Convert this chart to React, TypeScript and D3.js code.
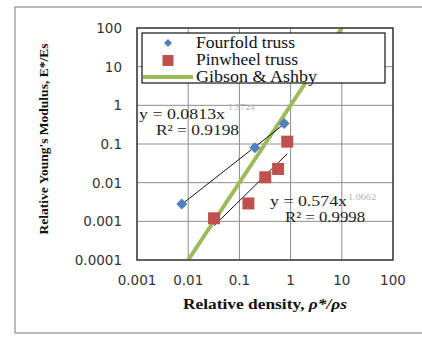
import React from "react";
import * as d3 from "d3";

// data
const fourfoldX = [0.0075, 0.2, 0.75];
const fourfoldY = [0.0028, 0.08, 0.34];
const pinwheelX = [0.032, 0.15, 0.32, 0.57, 0.86];
const pinwheelY = [0.0012, 0.0029, 0.0138, 0.0226, 0.115];
const gibsonX = [0.01, 10];

const xTicks = [0.001, 0.01, 0.1, 1, 10, 100];
const xTickLabels = ["0.001", "0.01", "0.1", "1", "10", "100"];
const yTicks = [0.0001, 0.001, 0.01, 0.1, 1, 10, 100];
const yTickLabels = ["0.0001", "0.001", "0.01", "0.1", "1", "10", "100"];

const legendLabels = ["Fourfold truss", "Pinwheel truss", "Gibson & Ashby"];
const legendWidths = [99, 102, 121];

const width = 422;
const height = 337;
const margin = { top: 28, right: 29, bottom: 77, left: 137 };

const blue = "#4f81bd";
const red = "#c0504d";
const green = "#9bbb59";
const serif = "'Liberation Serif', 'Times New Roman', serif";
const sans = "'DejaVu Sans', Verdana, sans-serif";

// least squares fit in log-log space (power trendline)
const powerFit = (xs: number[], ys: number[]) => {
  const lx = xs.map(Math.log10);
  const ly = ys.map(Math.log10);
  const mx = d3.mean(lx) as number;
  const my = d3.mean(ly) as number;
  const b =
    d3.sum(lx, (v, i) => (v - mx) * (ly[i] - my)) /
    d3.sum(lx, (v) => (v - mx) * (v - mx));
  const a = my - b * mx;
  return (x: number) => Math.pow(10, a + b * Math.log10(x));
};

const App = () => {
  const xScale = d3
    .scaleLog()
    .domain([0.001, 100])
    .range([margin.left, width - margin.right]);
  const yScale = d3
    .scaleLog()
    .domain([0.0001, 100])
    .range([height - margin.bottom, margin.top]);

  const line = d3
    .line<[number, number]>()
    .x((d) => xScale(d[0]))
    .y((d) => yScale(d[1]));

  const fitBlue = powerFit(fourfoldX, fourfoldY);
  const fitRed = powerFit(pinwheelX, pinwheelY);
  const blueExt = d3.extent(fourfoldX) as [number, number];
  const redExt = d3.extent(pinwheelX) as [number, number];

  const x0 = margin.left;
  const x1 = width - margin.right;
  const y0 = margin.top;
  const y1 = height - margin.bottom;

  return (
    <svg
      width={width}
      height={height}
      style={{ position: "absolute", left: 0, top: 0, background: "#fff" }}
    >
      <rect x={15} y={7} width={430} height={326} fill="#fff" stroke="#a6a6a6" strokeWidth={1.5} />

      {/* gridlines */}
      {xTicks.map((t) => (
        <line key={"gx" + t} x1={xScale(t)} x2={xScale(t)} y1={y0} y2={y1} stroke="#8c8c8c" strokeWidth={1} />
      ))}
      {yTicks.map((t) => (
        <line key={"gy" + t} x1={x0} x2={x1} y1={yScale(t)} y2={yScale(t)} stroke="#8c8c8c" strokeWidth={1} />
      ))}

      {/* Gibson & Ashby: modulus ratio = density ratio squared */}
      <path
        d={line(gibsonX.map((x) => [x, x * x]) as [number, number][]) as string}
        stroke={green}
        strokeWidth={4}
        fill="none"
      />

      {/* trendlines */}
      <path
        d={line([blueExt[0], blueExt[1]].map((x) => [x, fitBlue(x)]) as [number, number][]) as string}
        stroke="#111"
        strokeWidth={1}
        fill="none"
      />
      <path
        d={line([redExt[0], redExt[1]].map((x) => [x, fitRed(x)]) as [number, number][]) as string}
        stroke="#111"
        strokeWidth={1}
        fill="none"
      />

      {/* markers */}
      {pinwheelX.map((x, i) => (
        <rect key={"r" + i} x={xScale(x) - 6} y={yScale(pinwheelY[i]) - 6} width={12} height={12} fill={red} />
      ))}
      {fourfoldX.map((x, i) => (
        <path
          key={"b" + i}
          transform={`translate(${xScale(x)},${yScale(fourfoldY[i])})`}
          d="M0,-5.5L5.5,0L0,5.5L-5.5,0Z"
          fill={blue}
        />
      ))}

      {/* plot border */}
      <rect x={x0} y={y0} width={x1 - x0} height={y1 - y0} fill="none" stroke="#404040" strokeWidth={1.5} />

      {/* equations */}
      <g fontFamily={serif} fontSize={15} fill="#222">
        <text x={139} y={119} textLength={86} lengthAdjust="spacingAndGlyphs">
          y = 0.0813x
        </text>
        <text x={228} y={110} fontSize={8} fill="#b0b0b0" textLength={27} lengthAdjust="spacingAndGlyphs">
          1.3724
        </text>
        <text x={156} y={135} textLength={83} lengthAdjust="spacingAndGlyphs">
          R² = 0.9198
        </text>
        <text x={270} y={206} textLength={77} lengthAdjust="spacingAndGlyphs">
          y = 0.574x
        </text>
        <text x={348} y={200} fontSize={8} fill="#b0b0b0" textLength={28} lengthAdjust="spacingAndGlyphs">
          1.0662
        </text>
        <text x={285} y={222} textLength={80} lengthAdjust="spacingAndGlyphs">
          R² = 0.9998
        </text>
      </g>

      {/* legend */}
      <rect x={142} y={33} width={243} height={50} fill="#fff" stroke="#111" strokeWidth={1.2} />
      <path transform="translate(168,43)" d="M0,-4L4,0L0,4L-4,0Z" fill={blue} />
      <rect x={162.5} y={55} width={11} height={11} fill={red} />
      <line x1={143} x2={193} y1={77} y2={77} stroke={green} strokeWidth={4} />
      <g fontFamily={serif} fontSize={16} fill="#111">
        {legendLabels.map((l, i) => (
          <text
            key={l}
            x={196}
            y={48 + i * 17}
            textLength={legendWidths[i]}
            lengthAdjust="spacingAndGlyphs"
          >
            {l}
          </text>
        ))}
      </g>

      {/* tick labels */}
      <g fontFamily={sans} fontSize={13.5} fill="#333">
        {yTicks.map((t, i) => (
          <text key={"yl" + t} x={122} y={yScale(t) + 5} textAnchor="end">
            {yTickLabels[i]}
          </text>
        ))}
        {xTicks.map((t, i) => (
          <text key={"xl" + t} x={xScale(t)} y={285} textAnchor="middle">
            {xTickLabels[i]}
          </text>
        ))}
      </g>

      {/* axis titles */}
      <text
        x={183}
        y={309}
        fontFamily={serif}
        fontWeight="bold"
        fontSize={15}
        fill="#111"
        textLength={164}
        lengthAdjust="spacingAndGlyphs"
      >
        Relative density, <tspan fontStyle="italic">ρ*/ρs</tspan>
      </text>
      <text
        transform="translate(48,139) rotate(-90)"
        textAnchor="middle"
        fontFamily={serif}
        fontWeight="bold"
        fontSize={13.5}
        fill="#111"
      >
        Relative Young's Modulus, E*/Es
      </text>
    </svg>
  );
};

export default App;
